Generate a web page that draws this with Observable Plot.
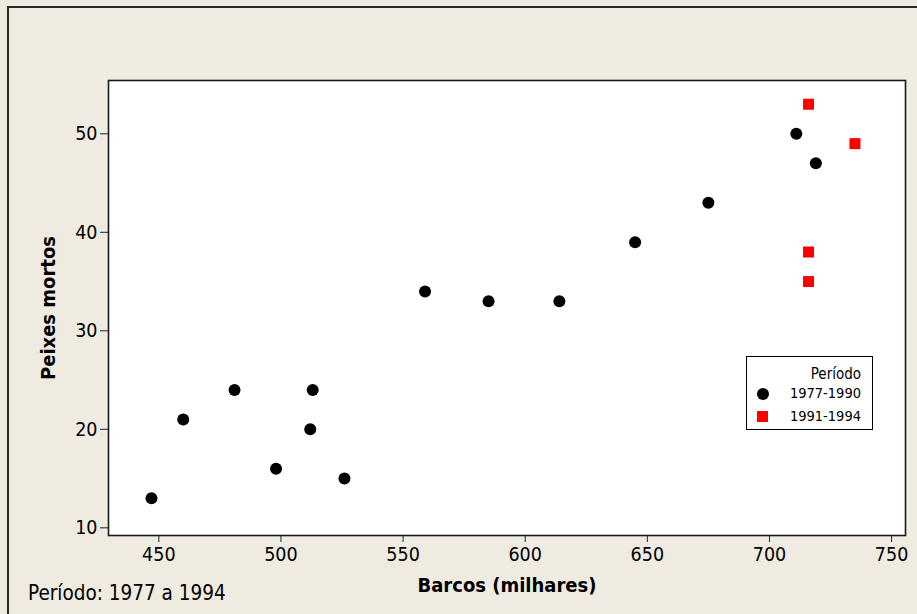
<!DOCTYPE html>
<html>
<head>
<meta charset="utf-8">
<script src="https://cdn.jsdelivr.net/npm/d3@7"></script>
<script src="https://cdn.jsdelivr.net/npm/@observablehq/plot@0.6"></script>
<style>
  html, body { margin: 0; padding: 0; background: #EFEBE1; width: 917px; height: 614px; overflow: hidden; }
  #wrap { position: relative; width: 917px; height: 614px; font-family: "DejaVu Sans Condensed", "DejaVu Sans", sans-serif; }
  #border { position: absolute; left: 7px; top: 6px; width: 1000px; height: 1000px; border: 2px solid #2a2a2a; box-sizing: border-box; }
  #chart { position: absolute; left: 0; top: 0; }
  #chart svg [aria-label="x-axis label"] text, #chart svg [aria-label="y-axis label"] text { font-weight: bold; font-size: 20px; }
  #caption { position: absolute; left: 28px; top: 581px; font-size: 20.5px; color: #000; white-space: nowrap; }
  #legend { position: absolute; left: 746px; top: 356px; width: 127px; height: 74px; border: 1px solid #000; box-sizing: border-box; background: #fff; font-size: 14.5px; color: #000; }
  #legend .title { position: absolute; right: 11px; top: 8px; font-size: 15px; }
  #legend .row { position: absolute; left: 0; right: 11px; height: 18px; }
  #legend .row span.lbl { position: absolute; right: 0; top: 0; }
  #legend .sym { position: absolute; left: 10px; top: 3px; width: 12px; height: 12px; }
</style>
</head>
<body>
<div id="wrap">
  <div id="border"></div>
  <div id="chart"></div>
  <div id="caption"></div>
  <div id="legend"></div>
</div>
<script>
// Data
const barcos1 = [447, 460, 481, 498, 513, 512, 526, 559, 585, 614, 645, 675, 711, 719];
const peixes1 = [13, 21, 24, 16, 24, 20, 15, 34, 33, 33, 39, 43, 50, 47];
const barcos2 = [716, 735, 716, 716];
const peixes2 = [53, 49, 38, 35];
const series = ["1977-1990", "1991-1994"];
const xTicks = [450, 500, 550, 600, 650, 700, 750];
const yTicks = [10, 20, 30, 40, 50];
const xLabel = "Barcos (milhares)";
const yLabel = "Peixes mortos";
const legendTitle = "Período";
const captionText = "Período: 1977 a 1994";

const d1 = barcos1.map((b, i) => ({x: b, y: peixes1[i], s: series[0]}));
const d2 = barcos2.map((b, i) => ({x: b, y: peixes2[i], s: series[1]}));

const chart = Plot.plot({
  width: 917,
  height: 614,
  marginLeft: 108,
  marginRight: 12,
  marginTop: 80,
  marginBottom: 79,
  style: {background: "transparent", fontSize: "19.5px", color: "#000", fontFamily: "'DejaVu Sans Condensed', 'DejaVu Sans', sans-serif"},
  x: {domain: [429.4, 755.7], labelArrow: "none"},
  y: {domain: [9.22, 55.41], labelArrow: "none"},
  marks: [
    Plot.frame({fill: "white", stroke: null}),
    Plot.axisX({ticks: xTicks, tickSize: 7, tickPadding: 5, tickFormat: d => String(d), label: xLabel, labelArrow: "none", labelAnchor: "center", labelOffset: 56, stroke: "#222"}),
    Plot.axisY({ticks: yTicks, tickSize: 8, tickPadding: 3, tickFormat: d => String(d), label: yLabel, labelArrow: "none", labelAnchor: "center", labelOffset: 68, stroke: "#222"}),
    Plot.dot(d1, {x: "x", y: "y", r: 6, fill: "black", stroke: null, symbol: "circle"}),
    Plot.dot(d2, {x: "x", y: "y", r: 6.2, fill: "#ff0000", stroke: null, symbol: "square"}),
    Plot.frame({stroke: "#1a1a1a", strokeWidth: 1.6})
  ]
});
document.getElementById("chart").appendChild(chart);

document.getElementById("caption").textContent = captionText;

const leg = document.getElementById("legend");
const t = document.createElement("div");
t.className = "title";
t.textContent = legendTitle;
leg.appendChild(t);
series.forEach((s, i) => {
  const row = document.createElement("div");
  row.className = "row";
  row.style.top = (28 + i * 23) + "px";
  const sym = document.createElement("div");
  sym.className = "sym";
  if (i === 0) { sym.style.background = "#000"; sym.style.borderRadius = "50%"; }
  else { sym.style.background = "#ff0000"; sym.style.width = "11px"; sym.style.height = "11px"; }
  const lbl = document.createElement("span");
  lbl.className = "lbl";
  lbl.textContent = s;
  row.appendChild(sym);
  row.appendChild(lbl);
  leg.appendChild(row);
});
</script>
</body>
</html>
